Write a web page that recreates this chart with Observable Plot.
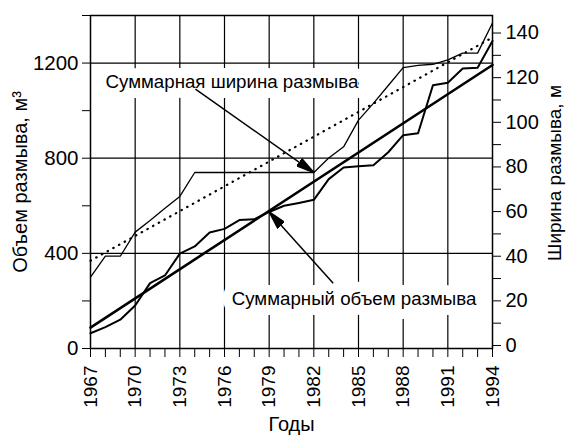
<!DOCTYPE html>
<html><head><meta charset="utf-8">
<script src="https://cdn.jsdelivr.net/npm/d3@7"></script>
<script src="https://cdn.jsdelivr.net/npm/@observablehq/plot@0.6"></script>
<style>
body{margin:0;background:#fff}
#chart{width:566px;height:435px}
</style>
</head><body><div id="chart"></div>
<script>
// ---- data ----
const years = [1967,1968,1969,1970,1971,1972,1973,1974,1975,1976,1977,1978,1979,1980,1981,1982,1983,1984,1985,1986,1987,1988,1989,1990,1991,1992,1993,1994];
// cumulative erosion volume, m3 (left axis)
const volume = [64,90,121,181,275,307,399,429,488,503,540,543,574,600,612,625,712,761,766,770,825,897,905,1107,1117,1177,1180,1293];
// cumulative erosion width, m (right axis)
const width = [30.6,40,40,50.8,56,61.5,66.8,77.5,77.5,77.5,77.5,77.5,77.5,77.5,77.5,77.5,84,89,101,108.5,116.5,124.5,125.5,126,128,131,131,144.5];
// trend lines
const trendYears = [1967, 1994];
const volumeTrend = [88, 1192];
const widthTrend = [38, 138];
// ticks
const leftTicks = [0,200,400,600,800,1000,1200,1400];
const leftLabels = [0,400,800,1200];
const rightTicks = [0,10,20,30,40,50,60,70,80,90,100,110,120,130,140];
const rightLabels = [0,20,40,60,80,100,120,140];
const yearLabels = [1967,1970,1973,1976,1979,1982,1985,1988,1991,1994];
const gridYears = [1970,1973,1976,1979,1982,1985,1988,1991];
const gridVolume = [400,800,1200];
// annotations
const labelTexts = ["Суммарная ширина размыва", "Суммарный объем размыва"];
const labelYears = [1976.5, 1984.7];
const labelVolumes = [1120, 210];
const arrowFromYears = [1974.05, 1983.3];
const arrowFromVolumes = [1090, 274];
const arrowToYears = [1982, 1979];
const axisTitles = ["Объем размыва, м³", "Ширина размыва, м", "Годы"];

// right axis (width, m) is drawn on the left scale (volume, m3)
const widthToVolume = w => 12.6 + 9.384 * w;
const volumeToWidth = v => (v - 12.6) / 9.384;

const rows = years.map((yr, i) => ({year: yr, volume: volume[i], width: width[i]}));
const trendRows = trendYears.map((yr, i) => ({year: yr, volume: volumeTrend[i], width: widthTrend[i]}));
const labels = labelTexts.map((t, i) => ({text: t, year: labelYears[i], v: labelVolumes[i]}));
const arrows = [
  {x1: arrowFromYears[0], y1: arrowFromVolumes[0], x2: arrowToYears[0], y2: widthToVolume(width[years.indexOf(arrowToYears[0])])},
  {x1: arrowFromYears[1], y1: arrowFromVolumes[1], x2: arrowToYears[1], y2: volume[years.indexOf(arrowToYears[1])]}
];

function filledArrow(color, context) {
  const doc = (context && context.document) || document;
  const ns = "http://www.w3.org/2000/svg";
  const m = doc.createElementNS(ns, "marker");
  m.setAttribute("viewBox", "-18 -5 18 10");
  m.setAttribute("markerWidth", 18);
  m.setAttribute("markerHeight", 10);
  m.setAttribute("refX", 0);
  m.setAttribute("refY", 0);
  m.setAttribute("markerUnits", "userSpaceOnUse");
  m.setAttribute("orient", "auto");
  const p = doc.createElementNS(ns, "path");
  p.setAttribute("d", "M0,0L-18,-4.5L-18,4.5Z");
  p.setAttribute("fill", color || "black");
  m.appendChild(p);
  return m;
}

function build(marker) {
  return Plot.plot({
    width: 566,
    height: 435,
    marginLeft: 90,
    marginRight: 74,
    marginTop: 15,
    marginBottom: 87,
    style: {fontFamily: "'Liberation Sans', Arial, sans-serif", background: "#fff", color: "#000", overflow: "visible"},
    x: {domain: [1967, 1994]},
    y: {domain: [0, 1400]},
    marks: [
      Plot.gridX(gridYears, {stroke: "#000", strokeOpacity: 1, strokeWidth: 1.2}),
      Plot.gridY(gridVolume, {stroke: "#000", strokeOpacity: 1, strokeWidth: 1.2}),
      Plot.text(labels, {x: "year", y: "v", text: "text", fontSize: 18.7, fill: "#000", stroke: "#fff", strokeWidth: 20, strokeLinejoin: "round", textAnchor: "middle", lineAnchor: "middle"}),
      Plot.line(trendRows, {x: "year", y: d => widthToVolume(d.width), stroke: "#000", strokeWidth: 2.2, strokeDasharray: "0.5,6", strokeLinecap: "round"}),
      Plot.line(rows, {x: "year", y: d => widthToVolume(d.width), stroke: "#000", strokeWidth: 1.3}),
      Plot.line(trendRows, {x: "year", y: "volume", stroke: "#000", strokeWidth: 2.6}),
      Plot.line(rows, {x: "year", y: "volume", stroke: "#000", strokeWidth: 2}),
      Plot.link(arrows, {x1: "x1", y1: "y1", x2: "x2", y2: "y2", stroke: "#000", strokeWidth: 1.5, markerEnd: marker}),
      Plot.axisY({ticks: leftTicks, tickSize: 8, tickPadding: 4, fontSize: 20.5, label: null, tickFormat: d => leftLabels.includes(d) ? String(d) : ""}),
      Plot.axisY({anchor: "right", ticks: rightTicks.map(widthToVolume), tickSize: 8, tickPadding: 5, fontSize: 20, label: null,
        tickFormat: v => { const w = Math.round(volumeToWidth(v)); return rightLabels.includes(w) ? String(w) : ""; }}),
      Plot.axisX({ticks: years, tickSize: 9, tickPadding: 8, tickRotate: -90, fontSize: 19, label: null,
        tickFormat: d => yearLabels.includes(d) ? String(d) : ""}),
      Plot.text([axisTitles[0]], {frameAnchor: "left", dx: -70, rotate: -90, fontSize: 20, textAnchor: "middle", lineAnchor: "middle", fill: "#000"}),
      Plot.text([axisTitles[1]], {frameAnchor: "right", dx: 62, dy: -9, rotate: -90, fontSize: 19, textAnchor: "middle", lineAnchor: "middle", fill: "#000"}),
      Plot.text([axisTitles[2]], {frameAnchor: "bottom", dy: 76, fontSize: 20, textAnchor: "middle", lineAnchor: "middle", fill: "#000"}),
      Plot.frame({stroke: "#000", strokeWidth: 1.5})
    ]
  });
}

let chart;
try { chart = build(filledArrow); } catch (e) { chart = build("arrow"); }
document.getElementById("chart").appendChild(chart);
</script>
</body></html>
